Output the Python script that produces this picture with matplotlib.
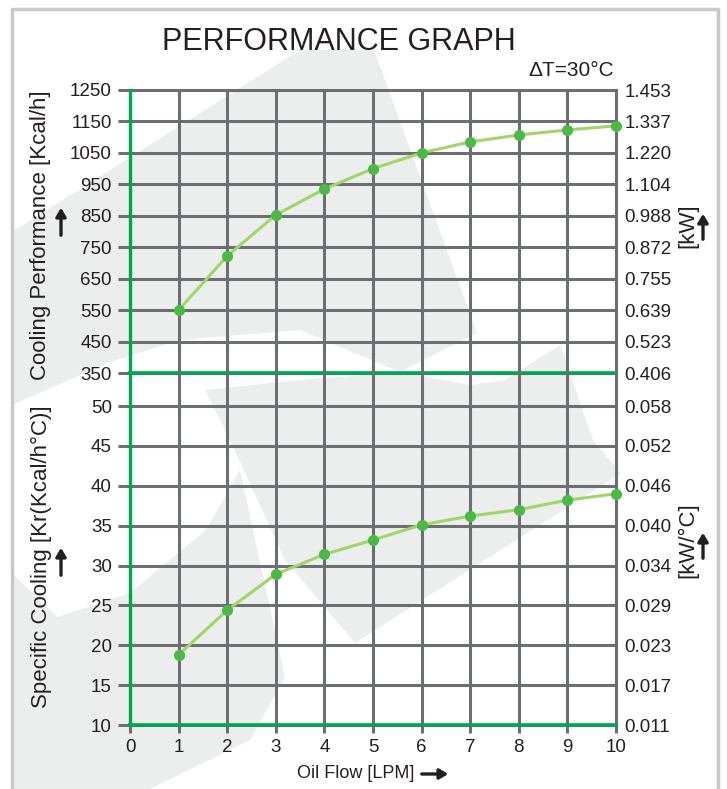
"""Performance graph: cooling performance and specific cooling vs oil flow."""

import numpy as np
import matplotlib

matplotlib.use("Agg", force=True)
import matplotlib.pyplot as plt
from matplotlib.patches import Polygon

# ---- data ------------------------------------------------------------------
flow_lpm = [1, 2, 3, 4, 5, 6, 7, 8, 9, 10]
cooling_kcal_h = [550, 722, 853, 935, 1000, 1050, 1085, 1107, 1123, 1136]
specific_kr = [18.8, 24.4, 28.9, 31.4, 33.2, 35.1, 36.2, 37.0, 38.2, 39.0]

x_ticks = [0, 1, 2, 3, 4, 5, 6, 7, 8, 9, 10]
top_ticks = [350, 450, 550, 650, 750, 850, 950, 1050, 1150, 1250]
top_kw_labels = ["0.406", "0.523", "0.639", "0.755", "0.872",
                 "0.988", "1.104", "1.220", "1.337", "1.453"]
bot_ticks = [10, 15, 20, 25, 30, 35, 40, 45, 50]
bot_kw_labels = ["0.011", "0.017", "0.023", "0.029", "0.034",
                 "0.040", "0.046", "0.052", "0.058"]

W, H = 727, 789
grid_c = "#6d6e71"
green_c = "#00a651"
line_c = "#a3d46a"
dot_c = "#4cb847"
wm_c = "#ebeeec"
ink = "#231f20"
sans = ["Liberation Sans", "DejaVu Sans"]
tick_fs = 13.5

fig = plt.figure(figsize=(W / 100, H / 100), dpi=100)

# background layer in pixel coordinates (watermark + frame)
bg = fig.add_axes([0, 0, 1, 1], zorder=0)
bg.set_xlim(0, W)
bg.set_ylim(H, 0)
bg.axis("off")

watermark = [
    # upper band
    [(12, 232), (300, 50), (374, 50), (477, 333), (400, 372), (300, 330),
     (180, 340), (110, 362), (12, 405)],
    # lower-left blob
    [(12, 573), (57, 617), (130, 593), (206, 530), (240, 470), (285, 677),
     (250, 740), (150, 789), (12, 789)],
    # V shape
    [(205, 390), (300, 380), (400, 372), (470, 385), (505, 380), (560, 345),
     (593, 440), (621, 473), (355, 643), (285, 560), (230, 440)],
]
for pts in watermark:
    bg.add_patch(Polygon(pts, closed=True, facecolor=wm_c, edgecolor="none"))

bg.plot([12, 12, 718, 718], [H, 9, 9, H], color="#c8c8c8", lw=2.5)

x0, x1 = 130 / W, 616 / W
y_top, y_mid, y_bot = 1 - 90 / H, 1 - 373 / H, 1 - 725 / H

ax_t = fig.add_axes([x0, y_mid, x1 - x0, y_top - y_mid], zorder=2)
ax_b = fig.add_axes([x0, y_bot, x1 - x0, y_mid - y_bot], zorder=2)

for ax, ticks, lo, hi in ((ax_t, top_ticks, 350, 1250), (ax_b, bot_ticks, 10, 54.14)):
    ax.patch.set_alpha(0.0)
    ax.set_xlim(0, 10)
    ax.set_ylim(lo, hi)
    ax.set_xticks(x_ticks)
    ax.set_yticks(ticks)
    for s in ax.spines.values():
        s.set_visible(False)
    for xv in x_ticks[1:]:
        ax.axvline(xv, color=grid_c, lw=2.2, zorder=1, clip_on=False)
    for yv in ticks:
        ax.axhline(yv, color=grid_c, lw=2.2, zorder=1, clip_on=False)
    ax.axvline(0, color=green_c, lw=2.4, zorder=2, clip_on=False)
    ax.tick_params(axis="y", length=9, width=2.2, color=grid_c, pad=4,
                   labelsize=tick_fs, labelcolor=ink)

ax_t.axhline(350, color=green_c, lw=2.6, zorder=2, clip_on=False)
ax_b.axhline(10, color=green_c, lw=2.6, zorder=2, clip_on=False)
ax_t.tick_params(axis="x", bottom=False, labelbottom=False)
ax_b.tick_params(axis="x", length=6, width=2.2, color=grid_c, pad=4,
                 labelsize=tick_fs, labelcolor=ink)
ax_b.get_xticklines()[0].set_color(green_c)
ax_t.get_yticklines()[0].set_color(green_c)
ax_b.get_yticklines()[0].set_color(green_c)

for lab in ax_t.get_yticklabels() + ax_b.get_yticklabels() + ax_b.get_xticklabels():
    lab.set_family(sans)

# right-hand kW scales
for ax, ticks, labels in ((ax_t, top_ticks, top_kw_labels), (ax_b, bot_ticks, bot_kw_labels)):
    ax_r = ax.twinx()
    ax_r.set_ylim(ax.get_ylim())
    ax_r.set_yticks(ticks)
    ax_r.set_yticklabels(labels, family=sans)
    ax_r.tick_params(axis="y", length=0, pad=6, labelsize=tick_fs, labelcolor=ink)
    for s in ax_r.spines.values():
        s.set_visible(False)
    ax_r.patch.set_alpha(0.0)

# curves
ax_t.plot(flow_lpm, cooling_kcal_h, color=line_c, lw=2.2, zorder=3)
ax_t.plot(flow_lpm, cooling_kcal_h, "o", color=dot_c, ms=7, zorder=4, clip_on=False)
ax_b.plot(flow_lpm, specific_kr, color=line_c, lw=2.2, zorder=3)
ax_b.plot(flow_lpm, specific_kr, "o", color=dot_c, ms=7, zorder=4, clip_on=False)

# titles and axis captions
fig.text(339 / W, 1 - 42 / H, "PERFORMANCE GRAPH", ha="center", va="center",
         fontsize=22, family=sans, color=ink)
fig.text(571 / W, 1 - 71 / H, "ΔT=30°C", ha="center", va="center",
         fontsize=15, family=sans, color=ink)

fig.text(41 / W, 1 - 235 / H, "Cooling Performance [Kcal/h]", rotation=90,
         ha="center", va="center", fontsize=16, family=sans, color=ink)
fig.text(41 / W, 1 - 557 / H, "Specific Cooling [Kr(Kcal/h°C)]", rotation=90,
         ha="center", va="center", fontsize=16, family=sans, color=ink)
fig.text(688 / W, 1 - 226 / H, "[kW]", rotation=90,
         ha="center", va="center", fontsize=16, family=sans, color=ink)
fig.text(688 / W, 1 - 540 / H, "[kW/°C]", rotation=90,
         ha="center", va="center", fontsize=16, family=sans, color=ink)
fig.text(356 / W, 1 - 774 / H, "Oil Flow [LPM]", ha="center", va="center",
         fontsize=13, family=sans, color=ink)

arrow_kw = dict(arrowstyle="-|>,head_length=0.5,head_width=0.3", color=ink, lw=2.4)
for (xa, ya, xb, yb) in ((61, 238, 61, 205), (61, 578, 61, 545),
                         (703, 242, 703, 211), (703, 561, 703, 530),
                         (419, 774, 451, 774)):
    bg.annotate("", xy=(xb, yb), xytext=(xa, ya), arrowprops=arrow_kw)

fig.savefig("out.png", dpi=100)
